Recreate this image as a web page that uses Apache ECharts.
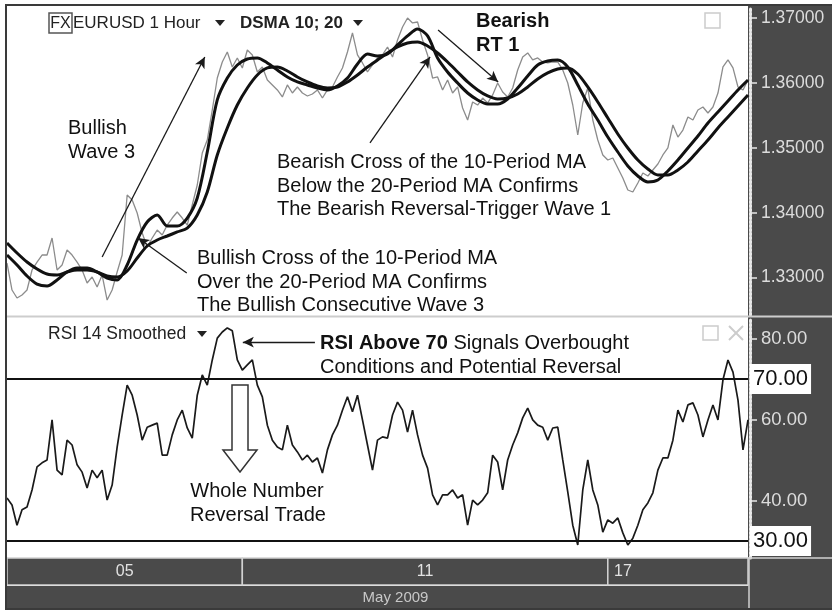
<!DOCTYPE html>
<html>
<head>
<meta charset="utf-8">
<script src="https://cdn.jsdelivr.net/npm/echarts@6/dist/echarts.min.js"></script>
<style>
html,body{margin:0;padding:0;background:#fff;}
#chart{width:832px;height:611px;}
</style>
</head>
<body>
<div id="chart"></div>
<script>
// EUR/USD hourly closes, oldest bar first
const closes = [
  1.33225, 1.32809, 1.32686, 1.32732, 1.32809, 1.33117, 1.33240, 1.33348, 1.33348, 1.33610,
  1.33117, 1.33194, 1.33425, 1.33348, 1.33240, 1.33117, 1.32917, 1.33009, 1.32855, 1.33040,
  1.32655, 1.32809, 1.33086, 1.33348, 1.34273, 1.34196, 1.33995, 1.33687, 1.33472, 1.33610,
  1.33733, 1.33656, 1.33810, 1.33918, 1.34011, 1.33918, 1.33810, 1.34119, 1.34427, 1.34920,
  1.35120, 1.35582, 1.36075, 1.36322, 1.36476, 1.36245, 1.36384, 1.36230, 1.36507, 1.36430,
  1.36168, 1.36245, 1.36045, 1.35968, 1.35891, 1.35783, 1.35968, 1.35844, 1.35937, 1.35844,
  1.35798, 1.35829, 1.35891, 1.35767, 1.35891, 1.35937, 1.36091, 1.36230, 1.36476, 1.36769,
  1.36430, 1.36307, 1.36168, 1.36276, 1.36384, 1.36430, 1.36553, 1.36399, 1.36661, 1.36861,
  1.37000, 1.36923, 1.36938, 1.36661, 1.36430, 1.36075, 1.36091, 1.35891, 1.36045, 1.35844,
  1.35937, 1.35613, 1.35428, 1.35706, 1.35659, 1.35767, 1.35690, 1.35814, 1.35998, 1.35860,
  1.35783, 1.35921, 1.36199, 1.36399, 1.36461, 1.36353, 1.36384, 1.36322, 1.36307, 1.36322,
  1.36322, 1.36199, 1.35998, 1.35659, 1.35197, 1.35690, 1.35921, 1.35428, 1.35120, 1.34889,
  1.34812, 1.34843, 1.34689, 1.34535, 1.34350, 1.34319, 1.34458, 1.34612, 1.34566, 1.34658,
  1.34750, 1.34889, 1.34997, 1.35351, 1.35166, 1.35274, 1.35475, 1.35428, 1.35582, 1.35629,
  1.35536, 1.35629, 1.35844, 1.36245, 1.36353, 1.36230, 1.35937, 1.35891, 1.36045
];

// DSMA 10 and DSMA 20, one reading every MA_STEP bars
const MA_STEP = 2;
const dsma10 = [
  1.33348, 1.33194, 1.33025, 1.32901, 1.32871, 1.32963, 1.33086, 1.33148, 1.33148, 1.33086,
  1.32994, 1.32963, 1.33194, 1.33579, 1.33857, 1.33965, 1.33795, 1.33795, 1.33918, 1.34227,
  1.34935, 1.35737, 1.36075, 1.36276, 1.36368, 1.36384, 1.36307, 1.36199, 1.36091, 1.36014,
  1.35968, 1.35921, 1.35891, 1.35952, 1.36075, 1.36291, 1.36445, 1.36414, 1.36445, 1.36584,
  1.36723, 1.36831, 1.36723, 1.36384, 1.36168, 1.35998, 1.35844, 1.35737, 1.35675, 1.35675,
  1.35752, 1.35921, 1.36106, 1.36276, 1.36337, 1.36353, 1.36245, 1.35968, 1.35675, 1.35428,
  1.35166, 1.34935, 1.34720, 1.34566, 1.34473, 1.34504, 1.34643, 1.34812, 1.34997, 1.35182,
  1.35382, 1.35552, 1.35721, 1.35891, 1.36045
];
const dsma20 = [
  1.33533, 1.33379, 1.33240, 1.33133, 1.33055, 1.33040, 1.33086, 1.33117, 1.33117, 1.33086,
  1.33025, 1.33009, 1.33102, 1.33302, 1.33487, 1.33579, 1.33641, 1.33703, 1.33764, 1.33965,
  1.34319, 1.34889, 1.35305, 1.35659, 1.35921, 1.36122, 1.36230, 1.36245, 1.36183, 1.36091,
  1.36014, 1.35952, 1.35921, 1.35937, 1.36014, 1.36122, 1.36245, 1.36353, 1.36461, 1.36553,
  1.36615, 1.36630, 1.36569, 1.36461, 1.36322, 1.36168, 1.36014, 1.35891, 1.35798, 1.35752,
  1.35767, 1.35829, 1.35937, 1.36060, 1.36153, 1.36214, 1.36230, 1.36137, 1.35937, 1.35706,
  1.35459, 1.35213, 1.34997, 1.34812, 1.34673, 1.34581, 1.34581, 1.34658, 1.34781, 1.34951,
  1.35120, 1.35305, 1.35475, 1.35644, 1.35814
];

// RSI 14 smoothed, one reading per bar
const rsi = [
  40.6, 38.9, 33.9, 37.7, 38.4, 42.6, 48.3, 49.3, 50.0, 59.9,
  47.5, 46.3, 54.9, 53.7, 48.8, 47.0, 43.1, 47.5, 45.6, 47.5,
  40.1, 43.8, 53.2, 61.1, 68.5, 66.0, 61.1, 54.9, 58.1, 58.6,
  59.1, 51.2, 51.2, 56.2, 59.9, 62.3, 57.9, 55.4, 66.0, 71.0,
  68.5, 74.7, 80.1, 81.6, 82.6, 81.9, 74.7, 72.2, 73.5, 74.7,
  68.5, 65.6, 58.6, 54.9, 53.2, 52.5, 58.6, 53.7, 52.0, 50.0,
  51.2, 49.5, 50.5, 46.8, 52.5, 56.2, 58.6, 62.3, 65.6, 61.9,
  66.0, 59.9, 53.7, 47.5, 54.9, 55.7, 55.4, 61.1, 64.3, 62.3,
  56.9, 62.3, 56.2, 51.2, 48.0, 41.4, 38.9, 41.4, 41.4, 42.6,
  40.6, 41.4, 33.9, 40.1, 38.9, 40.1, 41.9, 51.2, 49.5, 42.6,
  50.0, 53.7, 56.7, 60.4, 62.8, 59.9, 58.6, 58.1, 54.9, 57.9,
  58.1, 50.0, 42.1, 33.9, 29.0, 42.6, 50.0, 42.6, 38.9, 32.2,
  35.2, 34.4, 35.7, 32.0, 29.0, 30.7, 33.9, 37.7, 39.4, 41.9,
  47.5, 50.5, 50.5, 54.9, 62.3, 59.4, 63.6, 64.1, 61.1, 55.7,
  59.9, 63.6, 59.9, 69.8, 74.7, 71.7, 64.8, 52.5, 59.9
];

// axis ticks and time scale
const priceTicks = [1.33, 1.34, 1.35, 1.36, 1.37];
const rsiTicks = [40, 60, 80];
const rsiLevels = [70, 30];
const dayLabels = ['05', '11', '17'];
const dayStartBars = [0, 47, 120];
const monthLabel = 'May 2009';

const LAST_BAR = closes.length - 1;
const FONT = '"Liberation Sans", Arial, Helvetica, sans-serif';

const priceSeries = closes.map((v, i) => [i, v]);
const fastSeries = dsma10.map((v, k) => [k * MA_STEP, v]);
const slowSeries = dsma20.map((v, k) => [k * MA_STEP, v]);
const rsiSeries = rsi.map((v, i) => [i, v]);

// arrows pointing at chart features, in bar / value units
const priceArrows = [
  [[19.0, 1.33317], [39.5, 1.36399]],   // Bullish Wave 3
  [[86.1, 1.36815], [98.1, 1.36014]],   // Bearish RT 1
  [[72.5, 1.35074], [84.5, 1.36399]],   // bearish MA cross
  [[35.9, 1.33071], [26.2, 1.33610]]    // bullish MA cross
];
const rsiArrows = [
  [[61.5, 79.1], [47.1, 79.1]]
];
const arrowLines = list => list.map(a => [{ coord: a[0] }, { coord: a[1] }]);

const dayBands = dayLabels.map((d, j) => {
  const isLast = j === dayLabels.length - 1;
  const start = { xAxis: dayStartBars[j], name: d };
  if (isLast) start.label = { position: 'insideLeft', distance: 7 };
  return [start, { xAxis: isLast ? LAST_BAR : dayStartBars[j + 1] }];
});

const hiddenX = gi => ({ gridIndex: gi, type: 'value', min: 0, max: LAST_BAR, show: false });
const hiddenY = gi => ({ gridIndex: gi, type: 'value', min: 0, max: 1, show: false });

const sideAxis = (gi, min, max, ticks, fontSize) => ({
  gridIndex: gi, type: 'value', position: 'right', offset: 2, min: min, max: max,
  axisLine: { show: true, onZero: false, lineStyle: { color: '#e8e8e8', width: 3, type: [2, 2] } },
  axisTick: { show: true, length: 7, customValues: ticks, lineStyle: { color: '#e8e8e8', width: 1.5 } },
  axisLabel: {
    customValues: ticks, margin: 11, color: '#dcdcdc', fontSize: fontSize, fontFamily: FONT,
    formatter: v => v.toFixed(gi === 0 ? 5 : 2)
  },
  splitLine: { show: false }
});

const txt = (text, x, y, extra) => ({
  type: 'text', x: x, y: y, z: 20,
  style: Object.assign({ text: text, fill: '#111', font: '20px ' + FONT, textVerticalAlign: 'middle' }, (extra || {}))
});

const tri = (cx, cy) => ({
  type: 'polygon', z: 20,
  shape: { points: [[cx - 5, cy - 3], [cx + 5, cy - 3], [cx, cy + 3]] },
  style: { fill: '#222' }
});

const chart = echarts.init(document.getElementById('chart'), null, { renderer: 'canvas' });

chart.setOption({
  animation: false,
  backgroundColor: '#ffffff',
  grid: [
    { left: 7, top: 7, width: 741, height: 308 },
    { left: 7, top: 318, width: 741, height: 240 },
    { left: 7, top: 558, width: 741, height: 27 },
    { left: 7, top: 586, width: 741, height: 23 }
  ],
  xAxis: [hiddenX(0), hiddenX(1), hiddenX(2), hiddenX(3)],
  yAxis: [
    sideAxis(0, 1.32424, 1.37169, priceTicks, 17.5),
    sideAxis(1, 25.8, 85.06, rsiTicks, 18.5),
    hiddenY(2),
    hiddenY(3)
  ],
  series: [
    {
      name: 'EURUSD', type: 'line', xAxisIndex: 0, yAxisIndex: 0,
      data: priceSeries, symbol: 'none',
      lineStyle: { color: '#8c8c8c', width: 1.3 },
      markLine: {
        silent: true, symbol: ['none', 'arrow'], symbolSize: [8, 11],
        label: { show: false },
        lineStyle: { color: '#1a1a1a', width: 1.3, type: 'solid' },
        data: arrowLines(priceArrows)
      }
    },
    {
      name: 'DSMA 20', type: 'line', xAxisIndex: 0, yAxisIndex: 0,
      data: slowSeries, symbol: 'none', smooth: 0.3,
      lineStyle: { color: '#111', width: 3 }
    },
    {
      name: 'DSMA 10', type: 'line', xAxisIndex: 0, yAxisIndex: 0,
      data: fastSeries, symbol: 'none', smooth: 0.3,
      lineStyle: { color: '#111', width: 3 }
    },
    {
      name: 'RSI 14 Smoothed', type: 'line', xAxisIndex: 1, yAxisIndex: 1,
      data: rsiSeries, symbol: 'none',
      lineStyle: { color: '#1a1a1a', width: 1.7 },
      markLine: {
        silent: true, symbol: 'none',
        lineStyle: { color: '#111', width: 2, type: 'solid' },
        label: {
          position: 'end', distance: 2, formatter: p => p.value.toFixed(2),
          backgroundColor: '#ffffff', padding: [5, 3, 3, 3],
          color: '#111', fontSize: 22, fontFamily: FONT
        },
        data: rsiLevels.map(v => ({ yAxis: v })).concat(
          arrowLines(rsiArrows).map(a => [
            Object.assign({}, a[0], { symbol: 'none', lineStyle: { width: 1.3, color: '#1a1a1a' }, label: { show: false } }),
            Object.assign({}, a[1], { symbol: 'arrow', symbolSize: [8, 11] })
          ])
        )
      }
    },
    {
      name: 'days', type: 'line', xAxisIndex: 2, yAxisIndex: 2, data: [],
      markArea: {
        silent: true,
        itemStyle: { color: '#4a4a4a', borderColor: '#d2d2d2', borderWidth: 1.5 },
        label: { color: '#e2e2e2', fontSize: 16, fontFamily: FONT, position: 'inside' },
        data: dayBands
      }
    },
    {
      name: 'month', type: 'line', xAxisIndex: 3, yAxisIndex: 3, data: [],
      markArea: {
        silent: true,
        itemStyle: { color: '#4a4a4a', borderWidth: 0 },
        label: { color: '#c8c8c8', fontSize: 15, fontFamily: FONT, position: 'inside', offset: [18, 0] },
        data: [[{ xAxis: 0, name: monthLabel }, { xAxis: LAST_BAR }]]
      }
    }
  ],
  graphic: {
    elements: [
      // dark price-scale strip on the right
      { type: 'rect', z: -1, shape: { x: 748, y: 6, width: 84, height: 603 }, style: { fill: '#4a4a4a' } },
      // panel separators
      { type: 'line', z: 5, shape: { x1: 7, y1: 316.5, x2: 832, y2: 316.5 }, style: { stroke: '#cdcdcd', lineWidth: 2 } },
      { type: 'line', z: 5, shape: { x1: 748, y1: 558, x2: 832, y2: 558 }, style: { stroke: '#d2d2d2', lineWidth: 1.5 } },
      { type: 'line', z: 5, shape: { x1: 749, y1: 558, x2: 749, y2: 609 }, style: { stroke: '#d2d2d2', lineWidth: 1.5 } },
      // outer frame
      { type: 'rect', z: 30, shape: { x: 6, y: 5, width: 827, height: 604 }, style: { fill: 'none', stroke: '#3a3a3a', lineWidth: 2 } },

      // header
      { type: 'rect', z: 20, shape: { x: 49, y: 13, width: 23, height: 20 }, style: { fill: 'none', stroke: '#555', lineWidth: 1.5 } },
      txt('FX', 60.5, 23.5, { font: '16px ' + FONT, textAlign: 'center', fill: '#222' }),
      txt('EURUSD 1 Hour', 73, 23.5, { font: '17px ' + FONT, fill: '#222' }),
      tri(220, 23),
      txt('DSMA 10; 20', 240, 23.5, { font: 'bold 17px ' + FONT, fill: '#222' }),
      tri(358, 23),
      { type: 'rect', z: 20, shape: { x: 705, y: 13, width: 15, height: 15 }, style: { fill: 'none', stroke: '#cccccc', lineWidth: 1.5 } },

      // price panel notes
      txt('Bullish', 68, 128),
      txt('Wave 3', 68, 152),
      txt('Bearish', 476, 21, { font: 'bold 20px ' + FONT }),
      txt('RT 1', 476, 45, { font: 'bold 20px ' + FONT }),
      txt('Bearish Cross of the 10-Period MA', 277, 162),
      txt('Below the 20-Period MA Confirms', 277, 186),
      txt('The Bearish Reversal-Trigger Wave 1', 277, 209),
      txt('Bullish Cross of the 10-Period MA', 197, 258),
      txt('Over the 20-Period MA Confirms', 197, 282),
      txt('The Bullish Consecutive Wave 3', 197, 305),

      // RSI panel header and notes
      txt('RSI 14 Smoothed', 48, 334, { font: '17.5px ' + FONT, fill: '#222' }),
      tri(202, 334),
      { type: 'rect', z: 20, shape: { x: 703, y: 326, width: 15, height: 14 }, style: { fill: 'none', stroke: '#cccccc', lineWidth: 1.5 } },
      { type: 'line', z: 20, shape: { x1: 729, y1: 326, x2: 743, y2: 340 }, style: { stroke: '#cccccc', lineWidth: 2 } },
      { type: 'line', z: 20, shape: { x1: 743, y1: 326, x2: 729, y2: 340 }, style: { stroke: '#cccccc', lineWidth: 2 } },
      {
        type: 'text', x: 320, y: 343, z: 20,
        style: {
          text: '{b|RSI Above 70} Signals Overbought', fill: '#111', font: '20px ' + FONT,
          textVerticalAlign: 'middle',
          rich: { b: { fontWeight: 'bold', fontSize: 20, fontFamily: FONT, fill: '#111' } }
        }
      },
      txt('Conditions and Potential Reversal', 320, 367),
      {
        type: 'polygon', z: 20,
        shape: { points: [[232, 385], [248, 385], [248, 450], [257, 450], [240, 472], [223, 450], [232, 450]] },
        style: { fill: '#ffffff', stroke: '#333', lineWidth: 1.5 }
      },
      txt('Whole Number', 257, 491, { textAlign: 'center' }),
      txt('Reversal Trade', 258, 515, { textAlign: 'center' })
    ]
  }
});
</script>
</body>
</html>
